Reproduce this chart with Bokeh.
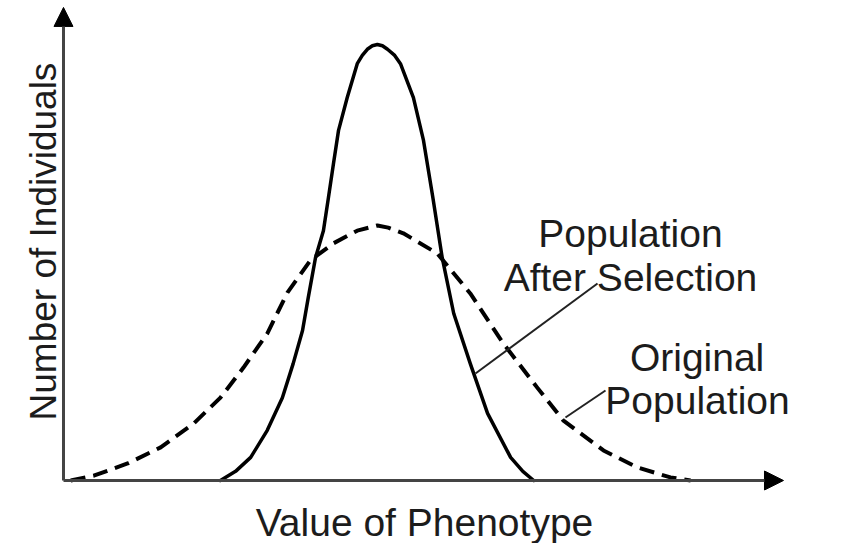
import math
from bokeh.plotting import figure
from bokeh.models import Range1d, Arrow, NormalHead, ColumnDataSource
from bokeh.core.properties import value
from bokeh.embed import file_html
from bokeh.resources import INLINE

# ---- data ----
# Population after selection (solid curve)
after_x = [21.8, 23.9, 26.0, 28.3, 30.4, 31.9, 33.2, 34.0, 35.0, 36.1, 36.8, 37.5, 38.2, 39.4,
           40.8, 41.5, 42.2, 42.9, 43.6, 44.3, 45.0, 46.0, 46.8, 48.6, 50.0, 51.3, 52.6, 54.2,
           56.5, 58.9, 62.1, 63.8, 65.3]
after_y = [0, 2.1, 5.3, 11.5, 19.0, 26.8, 34.4, 42.0, 51.1, 57.3, 64.9, 72.7, 80.3, 87.8,
           95.6, 97.5, 98.9, 99.7, 100, 99.7, 98.9, 97.5, 95.6, 87.8, 78.0, 64.9, 51.1, 38.3,
           26.8, 15.4, 5.3, 2.1, 0]

# Original population (dashed curve)
orig_x = [1.0, 4.2, 8.9, 13.5, 18.1, 21.8, 25.0, 28.3, 31.1, 34.3, 37.5, 40.8, 43.6, 45.1,
          47.2, 51.9, 56.5, 61.1, 65.8, 69.4, 75.0, 79.7, 84.3, 87.1]
orig_y = [0, 1.1, 3.9, 7.6, 13.1, 19.0, 25.9, 33.7, 43.1, 50.5, 54.4, 57.3, 58.5, 58.0,
          56.7, 52.1, 42.9, 31.4, 21.3, 13.8, 6.9, 3.0, 0.7, 0]

# axis extents
x_axis_end = 100.0
y_axis_end = 108.5

# labels
label_text = ["Population", "After Selection", "Original", "Population"]
label_x = [78.75, 78.75, 88.0, 88.06]
label_y = [56.65, 46.56, 28.2, 18.35]

x_title = "Value of Phenotype"
y_title = "Number of Individuals"

# leader lines (start at label, end at curve)
leader_x0 = [74.17, 75.28]
leader_y0 = [45.18, 20.64]
leader_x1 = [57.22, 69.72]
leader_y1 = [24.54, 14.45]

# ---- figure ----
p = figure(width=857, height=543, output_backend="svg", toolbar_location=None,
           x_range=Range1d(-8.75, 110.28), y_range=Range1d(-14.45, 110.09),
           x_axis_location=None, y_axis_location=None, min_border=0)
p.grid.visible = False
p.outline_line_color = None
p.background_fill_color = "white"
p.border_fill_color = "white"

FONT = value("Liberation Sans")
TXT = "#1c1c1c"

# axes as arrows
p.add_layout(Arrow(end=NormalHead(size=19, fill_color="black", line_color="black", line_width=1),
                   x_start=0, y_start=0, x_end=0, y_end=y_axis_end,
                   line_color="#444444", line_width=3))
p.add_layout(Arrow(end=NormalHead(size=19, fill_color="black", line_color="black", line_width=1),
                   x_start=0, y_start=0, x_end=x_axis_end, y_end=0,
                   line_color="#444444", line_width=3))

# curves
p.line(orig_x, orig_y, line_color="black", line_width=4, line_dash="15 8", line_join="round")
p.line(after_x, after_y, line_color="black", line_width=3.5, line_join="round", line_cap="round")

# leader lines
p.segment(x0=leader_x0, y0=leader_y0, x1=leader_x1, y1=leader_y1,
          line_color="#222222", line_width=2)

# labels
src = ColumnDataSource(dict(x=label_x, y=label_y, text=label_text))
p.text(x="x", y="y", text="text", source=src, text_font=FONT, text_font_size="39px",
       text_align="center", text_baseline="alphabetic", text_color=TXT)

p.text(x=[50.14], y=[-9.63], text=[x_title], text_font=FONT, text_font_size="39px",
       text_align="center", text_baseline="alphabetic", text_color=TXT)
p.text(x=[-2.78], y=[54.8], text=[y_title], text_font=FONT, text_font_size="37px",
       text_align="center", text_baseline="alphabetic", text_color=TXT, angle=math.pi / 2)

open("out.html", "w").write(file_html(p, INLINE))
